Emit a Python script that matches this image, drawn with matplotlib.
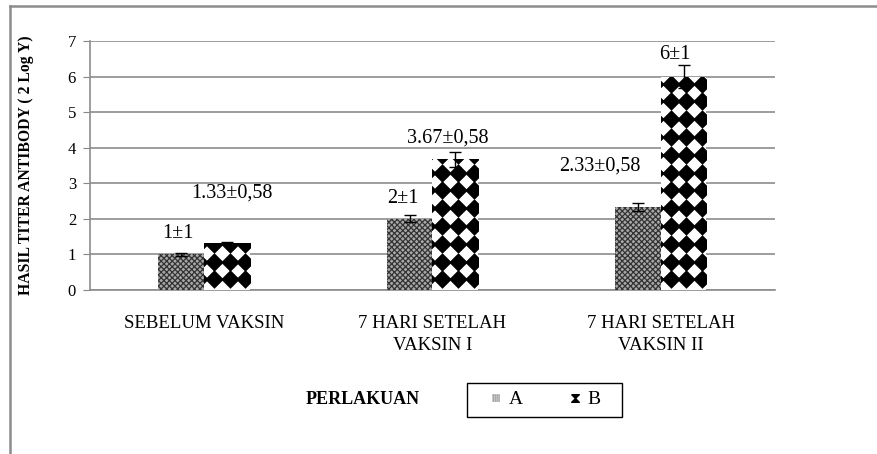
import numpy as np
import matplotlib.pyplot as plt
from matplotlib.patches import Rectangle
from matplotlib.lines import Line2D

plt.rcParams['font.family'] = ['Liberation Serif', 'DejaVu Serif']

# ---- data ----
categories = ['SEBELUM VAKSIN', '7 HARI SETELAH\nVAKSIN I', '7 HARI SETELAH\nVAKSIN II']
vals_a = [1.0, 2.0, 2.33]
vals_b = [1.33, 3.67, 6.0]
err_a = [0.03, 0.10, 0.12]
err_b = [0.03, 0.20, 0.32]
labels_a = ['1±1', '2±1', '2.33±0,58']
labels_b = ['1.33±0,58', '3.67±0,58', '6±1']
series = ['A', 'B']
# where the labels sit (moved by hand in the original)
label_pos_a = [(-0.115, 1.60), (0.871, 2.56), (1.734, 3.49)]
label_pos_b = [(0.122, 2.73), (1.068, 4.28), (2.062, 6.61)]

x = np.arange(len(categories))
w = 0.2
W, H = 877, 454  # figure size in px, used for the hand-placed legend


def fx(px):
    return px / W


def fy(py):
    return 1 - py / H


fig = plt.figure(figsize=(8.77, 4.54), dpi=100)
ax = fig.add_axes([0.1026, 0.3612, 0.781, 0.5485])

with plt.rc_context({'hatch.linewidth': 0.9}):
    bars_a = ax.bar(x - w / 2, vals_a, w, color='#a8a8a8', edgecolor='#333333',
                    hatch='xxxxxx', linewidth=0, zorder=3)
bars_b = ax.bar(x + w / 2, vals_b, w, color='white', linewidth=0, zorder=3)

# diamond fill pattern for series B, clipped to each bar
for rect in bars_b:
    x0, wd, h = rect.get_x(), rect.get_width(), rect.get_height()
    cols = x0 + wd * np.array([-0.12, 0.22, 0.56, 0.9, 1.24])
    rows = np.arange(0.3, h + 0.5, 0.5)
    gx, gy = np.meshgrid(cols, rows)
    pts = ax.scatter(gx.ravel(), gy.ravel(), marker='D', s=90, c='black',
                     linewidths=0, zorder=3.5)
    pts.set_clip_path(rect)

ax.errorbar(x - w / 2, vals_a, yerr=err_a, fmt='none', ecolor='black',
            elinewidth=1, capsize=4, capthick=1, zorder=4)
ax.errorbar(x + w / 2, vals_b, yerr=err_b, fmt='none', ecolor='black',
            elinewidth=1, capsize=4, capthick=1, zorder=4)

for txt, (px, py) in zip(labels_a + labels_b, label_pos_a + label_pos_b):
    ax.text(px, py, txt, ha='center', va='center', fontsize=14.5, zorder=5)

ax.set_xlim(-0.5, 2.5)
ax.set_ylim(0, 7)
ax.set_yticks(range(8))
ax.set_xticks(x)
ax.set_xticklabels(categories, fontsize=13.5, linespacing=1.4)
ax.tick_params(axis='x', length=0, pad=18)
ax.tick_params(axis='y', length=5, color='#888888', labelsize=12, pad=5)
ax.grid(axis='y', color='#8c8c8c', linewidth=1.2, zorder=0)
ax.set_axisbelow(True)
for s in ['top', 'right']:
    ax.spines[s].set_visible(False)
for s in ['left', 'bottom']:
    ax.spines[s].set_color('#8c8c8c')
    ax.spines[s].set_linewidth(1.2)

ax.set_ylabel('HASIL TITER ANTIBODY ( 2 Log Y)', fontsize=11.3, fontweight='bold')
ax.yaxis.set_label_coords(-0.082, 0.5)

fig.text(0.414, 0.12, 'PERLAKUAN', fontsize=13, fontweight='bold',
         ha='center', va='center')

# legend box, drawn by hand to keep Excel's spacing
fig.add_artist(Rectangle((fx(467), fy(417)), fx(622) - fx(467), fy(383) - fy(417),
                         transform=fig.transFigure, facecolor='white',
                         edgecolor='black', linewidth=1.0))
with plt.rc_context({'hatch.linewidth': 0.5}):
    fig.add_artist(Rectangle((fx(492), fy(402)), fx(8), fy(394) - fy(402),
                             transform=fig.transFigure, facecolor='#8a8a8a',
                             edgecolor='#cfcfcf', hatch='++++++++', linewidth=0))
bowtie = [(-1, 1), (1, 1), (0, 0), (1, -1), (-1, -1), (0, 0), (-1, 1)]
fig.add_artist(Line2D([fx(575)], [fy(398)], transform=fig.transFigure,
                      linestyle='none', marker=bowtie, markersize=5.5,
                      color='black'))
fig.text(fx(509), fy(399), series[0], fontsize=14, ha='left', va='center')
fig.text(fx(587), fy(399), series[1], fontsize=14, ha='left', va='center')

# chart-area border (only top and left edges show in the crop)
fig.add_artist(Line2D([fx(10), 1], [fy(6), fy(6)],
                      transform=fig.transFigure, color='#8c8c8c', linewidth=1.8))
fig.add_artist(Line2D([fx(10), fx(10)], [0, fy(6)],
                      transform=fig.transFigure, color='#8c8c8c', linewidth=1.8))

fig.savefig('out.png', dpi=100)
